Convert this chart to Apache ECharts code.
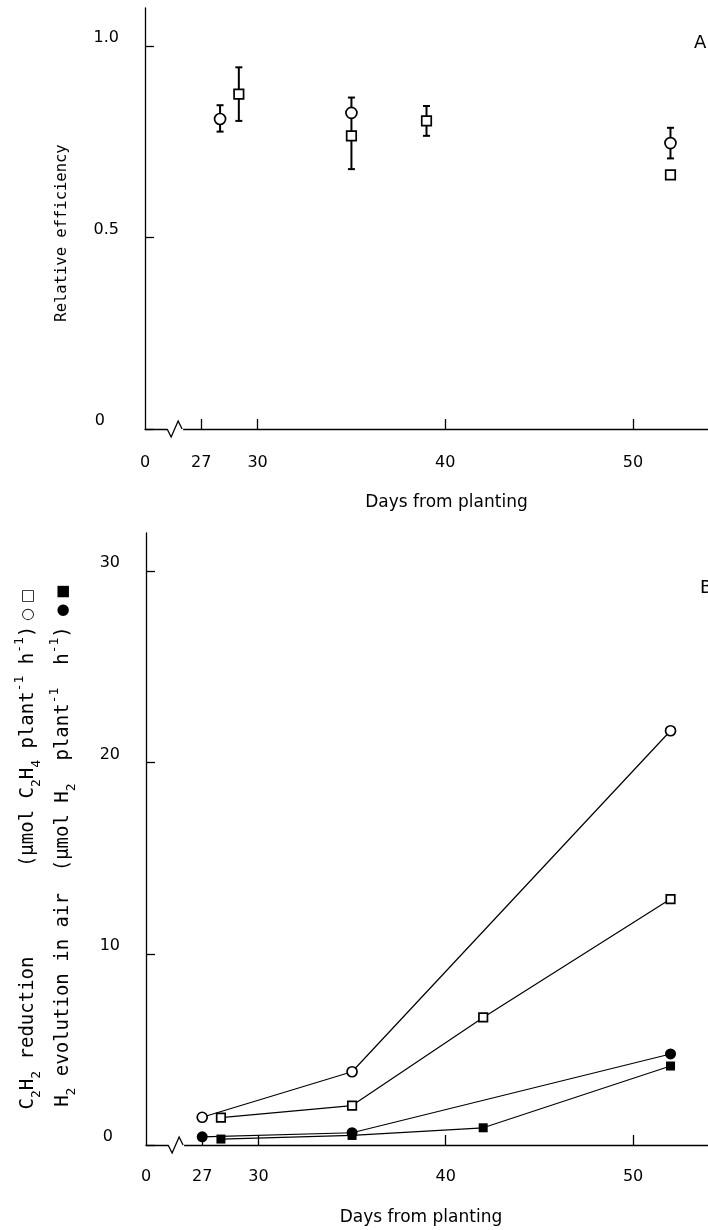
<!DOCTYPE html>
<html><head><meta charset="utf-8">
<script src="https://cdn.jsdelivr.net/npm/echarts@6/dist/echarts.min.js"></script>
<style>html,body{margin:0;padding:0;background:#fff}#c{width:708px;height:1230px}</style>
</head><body><div id="c"></div>
<script>
// ---- shared x axis ----
const xMin = 24, xMax = 54;              // 24 is shown as "0" (broken axis)
const xTickValues = [27, 30, 40, 50];
const xLabelValues = [24, 27, 30, 40, 50];
const xLabelText = {24: '0', 27: '27', 30: '30', 40: '40', 50: '50'};
const breakDay = 25.5;

// ---- Panel A: relative efficiency ----
const aTickValues = [0, 0.5, 1.0];
const aCircleDays = [28, 35, 52];
const aCircleEff  = [0.81, 0.826, 0.747];
const aCircleLow  = [0.777, 0.766, 0.707];
const aCircleHigh = [0.846, 0.866, 0.787];
const aSquareDays = [29, 35, 39, 52];
const aSquareEff  = [0.875, 0.766, 0.805, 0.664];
const aSquareLow  = [0.805, 0.679, 0.766, 0.664];
const aSquareHigh = [0.945, 0.766, 0.844, 0.664];

// ---- Panel B: C2H2 reduction / H2 evolution ----
const bTickValues = [0, 10, 20, 30];
const c2h2CircleDays = [27, 35, 52];
const c2h2Circle     = [1.45, 3.83, 21.66];
const c2h2SquareDays = [28, 35, 42, 52];
const c2h2Square     = [1.43, 2.06, 6.67, 12.86];
const h2CircleDays   = [27, 35, 52];
const h2Circle       = [0.43, 0.64, 4.76];
const h2SquareDays   = [28, 35, 42, 52];
const h2Square       = [0.31, 0.50, 0.90, 4.13];

const FONT = "'DejaVu Sans', sans-serif";
const MONO = "'DejaVu Sans Mono', monospace";
const BLACK = '#000';

function zip(xs, ys) { return xs.map((x, i) => [x, ys[i]]); }
function errData(xs, vs, lo, hi) { return xs.map((x, i) => [x, lo[i], hi[i], vs[i]]); }

function errRender(params, api) {
  const x = api.value(0), lo = api.value(1), hi = api.value(2), v = api.value(3);
  if (lo === hi) return null;
  const pLo = api.coord([x, lo]), pHi = api.coord([x, hi]);
  const st = {stroke: BLACK, lineWidth: 2};
  const w = 3.5;
  const ch = [{type: 'line', shape: {x1: pLo[0], y1: pLo[1], x2: pHi[0], y2: pHi[1]}, style: st}];
  if (hi !== v) ch.push({type: 'line', shape: {x1: pHi[0] - w, y1: pHi[1], x2: pHi[0] + w, y2: pHi[1]}, style: st});
  if (lo !== v) ch.push({type: 'line', shape: {x1: pLo[0] - w, y1: pLo[1], x2: pLo[0] + w, y2: pLo[1]}, style: st});
  return {type: 'group', children: ch};
}

function xAxisCfg(grid, labelMargin, nameGap, namePad) {
  return {
    type: 'value', gridIndex: grid, min: xMin, max: xMax,
    splitLine: {show: false},
    axisLine: {show: true, lineStyle: {color: BLACK, width: 1.3}},
    axisTick: {show: true, inside: true, length: 10, customValues: xTickValues, lineStyle: {color: BLACK, width: 1.3}},
    axisLabel: {customValues: xLabelValues, formatter: v => xLabelText[v] || '', margin: labelMargin,
      color: BLACK, fontSize: 16, fontFamily: FONT},
    name: 'Days from planting', nameLocation: 'middle', nameGap: nameGap,
    nameTextStyle: {color: BLACK, fontSize: 17, fontFamily: FONT, padding: namePad}
  };
}

function yAxisCfg(grid, min, max, ticks, fmt, zeroPad) {
  return {
    type: 'value', gridIndex: grid, min: min, max: max,
    splitLine: {show: false},
    axisLine: {show: true, lineStyle: {color: BLACK, width: 1.3}},
    axisTick: {show: true, inside: true, length: 9, customValues: ticks, lineStyle: {color: BLACK, width: 1.3}},
    axisLabel: {customValues: ticks, formatter: fmt, margin: 26, verticalAlign: 'bottom',
      color: BLACK, fontSize: 16, fontFamily: FONT,
      rich: {z: {padding: [0, zeroPad, 0, 0], fontSize: 16, fontFamily: FONT, color: BLACK}}}
  };
}

const openStyle = {color: '#fff', borderColor: BLACK, borderWidth: 1.7, opacity: 1};
const fillStyle = {color: BLACK, borderColor: BLACK, borderWidth: 0, opacity: 1};

function lineSeries(xs, ys, symbol, size, style) {
  return {type: 'line', xAxisIndex: 1, yAxisIndex: 1, data: zip(xs, ys), symbol: symbol, symbolSize: size,
    showAllSymbol: true, lineStyle: {color: BLACK, width: 1.2}, itemStyle: style, z: 3, animation: false};
}

const unitsRich = {
  t: {fontSize: 19, fontFamily: MONO, lineHeight: 30, verticalAlign: 'middle', color: BLACK},
  s: {fontSize: 13, fontFamily: MONO, lineHeight: 13, verticalAlign: 'bottom', color: BLACK},
  p: {fontSize: 13, fontFamily: MONO, lineHeight: 13, verticalAlign: 'top', color: BLACK},
  m: {fontSize: 15, fontFamily: FONT, lineHeight: 30, verticalAlign: 'middle', color: BLACK}
};

function vText(x, y, text) {
  return {type: 'text', x: x, y: y, rotation: Math.PI / 2, silent: true,
    style: {text: text, align: 'center', verticalAlign: 'middle', fill: BLACK, fontSize: 19, fontFamily: MONO, rich: unitsRich}};
}

const option = {
  backgroundColor: '#fff',
  animation: false,
  grid: [
    {left: 145, right: 0, top: 8, bottom: 801, containLabel: false},
    {left: 146, right: 0, top: 533, bottom: 85, containLabel: false}
  ],
  xAxis: [xAxisCfg(0, 26, 65, [0, 0, 0, 40]), xAxisCfg(1, 24, 64, [0, 12, 0, 0])],
  yAxis: [
    yAxisCfg(0, 0, 1.1, aTickValues, v => v === 0 ? '{z|0}' : v.toFixed(1), 14),
    yAxisCfg(1, 0, 32, bTickValues, v => v === 0 ? '{z|0}' : String(v), 7)
  ],
  series: [
    {type: 'custom', xAxisIndex: 0, yAxisIndex: 0, renderItem: errRender, data: errData(aCircleDays, aCircleEff, aCircleLow, aCircleHigh), z: 2},
    {type: 'custom', xAxisIndex: 0, yAxisIndex: 0, renderItem: errRender, data: errData(aSquareDays, aSquareEff, aSquareLow, aSquareHigh), z: 2},
    {type: 'scatter', xAxisIndex: 0, yAxisIndex: 0, data: zip(aCircleDays, aCircleEff), symbol: 'circle', symbolSize: 11, itemStyle: openStyle, z: 5},
    {type: 'scatter', xAxisIndex: 0, yAxisIndex: 0, data: zip(aSquareDays, aSquareEff), symbol: 'rect', symbolSize: 9.5, itemStyle: openStyle, z: 5},
    lineSeries(c2h2CircleDays, c2h2Circle, 'circle', 10, openStyle),
    lineSeries(c2h2SquareDays, c2h2Square, 'rect', 8.5, openStyle),
    lineSeries(h2CircleDays, h2Circle, 'circle', 11, fillStyle),
    lineSeries(h2SquareDays, h2Square, 'rect', 9, fillStyle)
  ]
};

const chart = echarts.init(document.getElementById('c'), null, {renderer: 'canvas'});
chart.setOption(option);

// decorations: axis breaks, panel letters, rotated y titles
const gfx = [];
[0, 1].forEach(g => {
  const p = chart.convertToPixel({gridIndex: g}, [breakDay, 0]);
  gfx.push({type: 'rect', shape: {x: p[0] - 6, y: p[1] - 2, width: 16, height: 4}, style: {fill: '#fff'}, z: 100, silent: true});
  gfx.push({type: 'polyline', shape: {points: [[p[0] - 6, p[1]], [p[0] - 2, p[1] + 8], [p[0] + 5, p[1] - 8], [p[0] + 9, p[1]]]},
    style: {stroke: BLACK, lineWidth: 1.3, fill: null}, z: 101, silent: true});
});
gfx.push({type: 'text', x: 694, y: 43, silent: true, style: {text: 'A', fontSize: 18, fontFamily: FONT, fill: BLACK, verticalAlign: 'middle'}});
gfx.push({type: 'text', x: 700, y: 588, silent: true, style: {text: 'B', fontSize: 18, fontFamily: FONT, fill: BLACK, verticalAlign: 'middle'}});
gfx.push({type: 'text', x: 62, y: 233, rotation: Math.PI / 2, silent: true,
  style: {text: 'Relative efficiency', align: 'center', verticalAlign: 'middle', fill: BLACK, fontSize: 15.5, fontFamily: MONO}});
gfx.push(vText(28, 1033, '{t|C}{s|2}{t|H}{s|2}{t| reduction}'));
gfx.push(vText(28, 728, '{t|(μmol C}{s|2}{t|H}{s|4}{t| plant}{p|-1}{t| h}{p|-1}{t|)}{m| ○ □}'));
gfx.push(vText(63, 1000, '{t|H}{s|2}{t| evolution in air}'));
gfx.push(vText(63, 728, '{t|(μmol H}{s|2}{t|  plant}{p|-1}{t|  h}{p|-1}{t|)}{m|  ● ■}'));
chart.setOption({graphic: gfx});
</script></body></html>
